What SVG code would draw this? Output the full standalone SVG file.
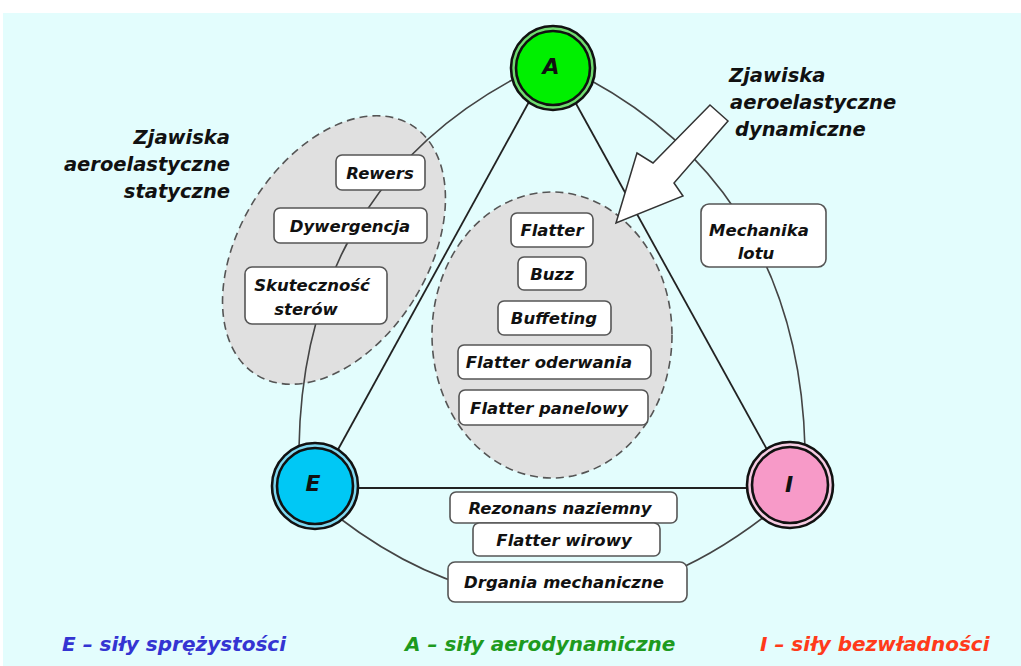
<svg xmlns="http://www.w3.org/2000/svg" width="1021" height="666" viewBox="0 0 1021 666">
<style>
  text { font-family: "DejaVu Sans", "Liberation Sans", sans-serif; font-weight: bold; font-style: italic; }
  .box { fill: #ffffff; stroke: #555555; stroke-width: 1.6; }
  .bt { font-size: 16.5px; fill: #111111; text-anchor: middle; }
  .head { font-size: 19.5px; fill: #111111; }
  .cloud { fill: #e0e0e0; stroke: #555555; stroke-width: 1.6; stroke-dasharray: 8 5; }
  .arc { fill: none; stroke: #444444; stroke-width: 1.6; }
  .ln { fill: none; stroke: #222222; stroke-width: 1.8; }
  .ring { stroke: #111111; stroke-width: 2.6; }
  .nl { font-size: 22px; fill: #111111; text-anchor: middle; }
  .leg { font-size: 20px; }
</style>
<rect x="0" y="0" width="1021" height="666" fill="#ffffff"/>
<rect x="3" y="13" width="1018" height="653" fill="#e3fdfd"/>

<g id="static-group">
  <ellipse class="cloud" cx="334" cy="250" rx="94" ry="147" transform="rotate(32 334 250)"/>
</g>
<g id="dynamic-group">
  <ellipse class="cloud" cx="552" cy="335" rx="120" ry="143"/>
</g>

<g id="connectors">
  <path class="arc" d="M512,80 C402,140 302,250 299,448"/>
  <path class="arc" d="M590,80 C700,140 800,250 805,448"/>
  <path class="arc" d="M338,517 Q551,680 764,517"/>
  <line class="ln" x1="530" y1="100" x2="335" y2="455"/>
  <line class="ln" x1="574" y1="100" x2="770" y2="455"/>
  <line class="ln" x1="355" y1="488" x2="748" y2="488"/>
</g>

<g id="heading-static">
  <text class="head" x="230" y="144" text-anchor="end">Zjawiska</text>
  <text class="head" x="230" y="171" text-anchor="end">aeroelastyczne</text>
  <text class="head" x="230" y="198" text-anchor="end">statyczne</text>
</g>
<g id="heading-dynamic">
  <text class="head" x="729" y="82">Zjawiska</text>
  <text class="head" x="730" y="109">aeroelastyczne</text>
  <text class="head" x="735" y="136">dynamiczne</text>
</g>

<g id="box-rewers">
  <rect class="box" x="336" y="155" width="89" height="35" rx="6"/>
  <text class="bt" x="380" y="178.5">Rewers</text>
</g>
<g id="box-dywergencja">
  <rect class="box" x="274" y="208" width="153" height="35" rx="6"/>
  <text class="bt" x="350" y="231.5">Dywergencja</text>
</g>
<g id="box-skutecznosc">
  <rect class="box" x="245" y="267" width="142" height="57" rx="7"/>
  <text class="bt" x="312" y="291">Skuteczność</text>
  <text class="bt" x="306" y="315">sterów</text>
</g>

<g id="box-flatter">
  <rect class="box" x="511" y="213" width="82" height="34" rx="6"/>
  <text class="bt" x="552" y="236">Flatter</text>
</g>
<g id="box-buzz">
  <rect class="box" x="518" y="257" width="68" height="33" rx="6"/>
  <text class="bt" x="552" y="279.5">Buzz</text>
</g>
<g id="box-buffeting">
  <rect class="box" x="498" y="301" width="113" height="34" rx="6"/>
  <text class="bt" x="554" y="324">Buffeting</text>
</g>
<g id="box-flatter-oderwania">
  <rect class="box" x="458" y="345" width="193" height="34" rx="6"/>
  <text class="bt" x="549" y="368">Flatter oderwania</text>
</g>
<g id="box-flatter-panelowy">
  <rect class="box" x="459" y="390" width="189" height="35" rx="6"/>
  <text class="bt" x="549" y="413.5">Flatter panelowy</text>
</g>

<g id="box-mechanika">
  <rect class="box" x="701" y="204" width="125" height="63" rx="8"/>
  <text class="bt" x="759" y="236">Mechanika</text>
  <text class="bt" x="756" y="259">lotu</text>
</g>

<g id="box-rezonans">
  <rect class="box" x="450" y="492" width="227" height="31" rx="6"/>
  <text class="bt" x="560" y="513.5">Rezonans naziemny</text>
</g>
<g id="box-flatter-wirowy">
  <rect class="box" x="473" y="523" width="187" height="33" rx="6"/>
  <text class="bt" x="564" y="545.5">Flatter wirowy</text>
</g>
<g id="box-drgania">
  <rect class="box" x="448" y="562" width="239" height="40" rx="7"/>
  <text class="bt" x="564" y="588">Drgania mechaniczne</text>
</g>

<g id="node-A">
  <circle class="ring" cx="553" cy="68" r="42" fill="#70dc70"/>
  <circle class="ring" cx="553" cy="68" r="37" fill="#00f000"/>
  <text class="nl" x="551" y="74">A</text>
</g>
<g id="node-E">
  <circle class="ring" cx="315" cy="486" r="43" fill="#80d8f0"/>
  <circle class="ring" cx="315" cy="486" r="38" fill="#00c8f5"/>
  <text class="nl" x="313" y="491">E</text>
</g>
<g id="node-I">
  <circle class="ring" cx="790" cy="485" r="43" fill="#f6cce2"/>
  <circle class="ring" cx="790" cy="485" r="38" fill="#f79ac8"/>
  <text class="nl" x="789" y="492">I</text>
</g>

<g id="arrow">
  <polygon points="710,105 728,121 674,183 683,196 616,223 637,153 653,163" fill="#ffffff" stroke="#333333" stroke-width="1.5" stroke-linejoin="miter"/>
</g>

<g id="legend">
  <text class="leg" x="62" y="651" fill="#3434d2">E – siły sprężystości</text>
  <text class="leg" x="405" y="651" fill="#1e9a1e">A – siły aerodynamiczne</text>
  <text class="leg" x="760" y="651" fill="#ff3a1a">I – siły bezwładności</text>
</g>
</svg>
